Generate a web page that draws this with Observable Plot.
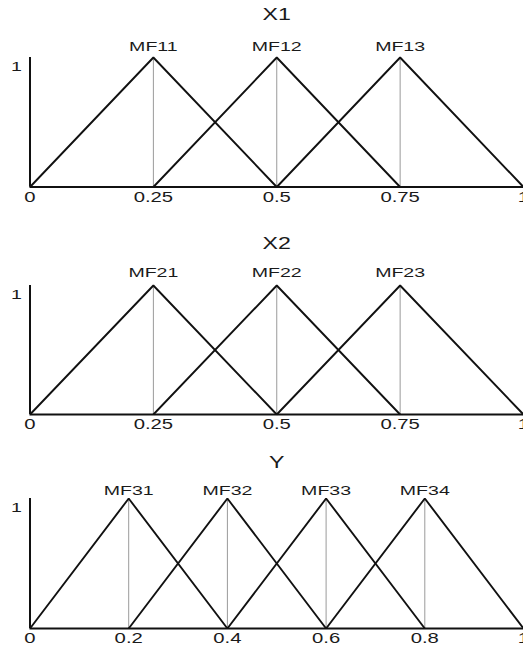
<!DOCTYPE html>
<html>
<head>
<meta charset="utf-8">
<script src="https://cdn.jsdelivr.net/npm/d3@7"></script>
<script src="https://cdn.jsdelivr.net/npm/@observablehq/plot@0.6"></script>
<style>
  html, body { margin: 0; padding: 0; background: #fff; }
  #chart { width: 523px; overflow: hidden; }
  #chart svg { display: block; }
</style>
</head>
<body>
<div id="chart"></div>
<script>
// Input X1: three triangular membership functions
const x1Names = ["MF11", "MF12", "MF13"];
const x1Left  = [0, 0.25, 0.5];
const x1Peak  = [0.25, 0.5, 0.75];
const x1Right = [0.5, 0.75, 1];
const x1Ticks = [0, 0.25, 0.5, 0.75, 1];

// Input X2: three triangular membership functions
const x2Names = ["MF21", "MF22", "MF23"];
const x2Left  = [0, 0.25, 0.5];
const x2Peak  = [0.25, 0.5, 0.75];
const x2Right = [0.5, 0.75, 1];
const x2Ticks = [0, 0.25, 0.5, 0.75, 1];

// Output Y: four triangular membership functions
const yNames = ["MF31", "MF32", "MF33", "MF34"];
const yLeft  = [0, 0.2, 0.4, 0.6];
const yPeak  = [0.2, 0.4, 0.6, 0.8];
const yRight = [0.4, 0.6, 0.8, 1];
const yTicks = [0, 0.2, 0.4, 0.6, 0.8, 1];

const FONT = "'Liberation Sans', Arial, Helvetica, sans-serif";
const TEXT_STRETCH = 1.45; // wide lettering, stretched horizontally about each anchor

function widenText(svg) {
  svg.querySelectorAll("text").forEach(t => {
    // move a numeric x into the transform so the horizontal stretch is about the anchor
    const xa = t.getAttribute("x");
    let x = 0;
    if (xa != null && /^-?[\d.]+$/.test(xa)) { x = +xa; t.removeAttribute("x"); }
    const tr = t.getAttribute("transform") || "";
    t.setAttribute("transform", `${tr} translate(${x},0) scale(${TEXT_STRETCH},1)`);
  });
  return svg;
}

function membershipPanel(p) {
  // triangle vertices: left foot, apex, right foot
  const tri = p.names.flatMap((n, i) => [
    {mf: n, x: p.left[i], y: 0},
    {mf: n, x: p.peak[i], y: 1},
    {mf: n, x: p.right[i], y: 0}
  ]);
  const apexes = p.names.map((n, i) => ({mf: n, x: p.peak[i]}));
  const svg = Plot.plot({
    width: 523,
    height: p.height,
    marginLeft: 29.5,
    marginRight: 0,
    marginTop: p.marginTop,
    marginBottom: p.marginBottom,
    style: {fontFamily: FONT, background: "#fff", color: "#1a1a1a"},
    x: {domain: [0, 1]},
    y: {domain: [0, 1]},
    marks: [
      Plot.ruleX(apexes, {x: "x", y1: 0, y2: 1, stroke: "#9a9a9a", strokeWidth: 1}),
      Plot.line(tri, {x: "x", y: "y", z: "mf", stroke: "#111", strokeWidth: 1.9, strokeLinejoin: "miter", strokeLinecap: "butt"}),
      Plot.ruleY([0], {stroke: "#111", strokeWidth: 2}),
      Plot.ruleX([0], {y1: 0, y2: 1, stroke: "#111", strokeWidth: 2}),
      Plot.axisX({ticks: p.ticks, tickSize: 0, tickPadding: 5, fontSize: 14, tickFormat: d => `${d}`, label: null}),
      Plot.axisY({ticks: [1], tickSize: 0, tickPadding: 8, dy: 9, fontSize: 13.5, tickFormat: d => `${d}`, label: null}),
      Plot.text(apexes, {x: "x", y: 1, text: "mf", dy: -p.labelOffset, fontSize: 13.5, lineAnchor: "middle"}),
      Plot.text([p.title], {frameAnchor: "top", dy: -p.titleOffset, fontSize: 16, lineAnchor: "middle"})
    ]
  });
  return widenText(svg);
}

const chart = document.getElementById("chart");
chart.append(
  membershipPanel({title: "X1", names: x1Names, left: x1Left, peak: x1Peak, right: x1Right, ticks: x1Ticks,
    height: 215, marginTop: 57, marginBottom: 28.5, labelOffset: 11, titleOffset: 43}),
  membershipPanel({title: "X2", names: x2Names, left: x2Left, peak: x2Peak, right: x2Right, ticks: x2Ticks,
    height: 221, marginTop: 70, marginBottom: 22, labelOffset: 13, titleOffset: 42}),
  membershipPanel({title: "Y", names: yNames, left: yLeft, peak: yPeak, right: yRight, ticks: yTicks,
    height: 210, marginTop: 62, marginBottom: 18, labelOffset: 8, titleOffset: 36})
);
</script>
</body>
</html>
